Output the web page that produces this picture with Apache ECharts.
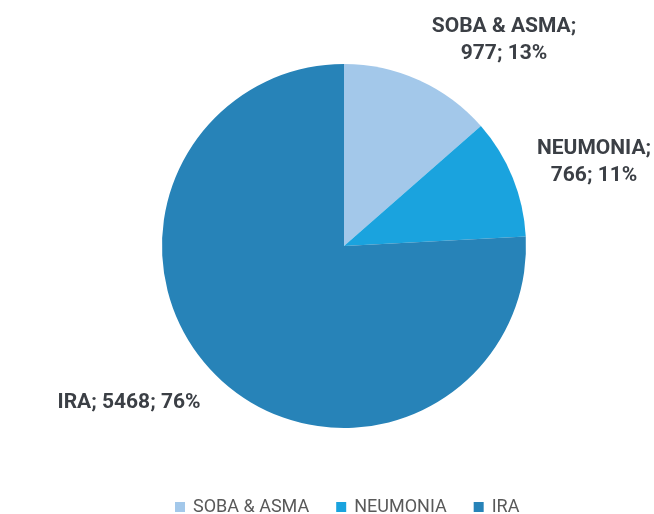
<!DOCTYPE html>
<html><head><meta charset="utf-8">
<script src="https://cdn.jsdelivr.net/npm/echarts@6/dist/echarts.min.js"></script>
<style>html,body{margin:0;padding:0;background:#fff}#c{width:654px;height:514px}</style>
</head><body><div id="c"></div>
<script>
const categories = ['SOBA & ASMA', 'NEUMONIA', 'IRA'];
const values = [977, 766, 5468];
const percents = ['13%', '11%', '76%'];
const colors = ['#a3c8ea', '#1aa3de', '#2783b8'];
const labelTexts = [
  'SOBA & ASMA;\n977; 13%',
  'NEUMONIA;\n766; 11%',
  'IRA; 5468; 76%'
];
const labelPos = [[504, 40], [594, 162], [129, 403]];

const chart = echarts.init(document.getElementById('c'), null, {renderer: 'canvas'});
chart.setOption({
  animation: false,
  backgroundColor: '#fff',
  legend: {
    top: 493,
    left: 170,
    itemWidth: 10, itemHeight: 10, itemGap: 27,
    icon: 'rect',
    textStyle: {color: '#595959', fontSize: 18, fontFamily: 'Roboto', padding: [0, 0, 0, 3]},
    data: categories
  },
  series: [{
    type: 'pie',
    center: [344, 246],
    radius: [0, 182],
    startAngle: 90,
    clockwise: true,
    data: categories.map((c, i) => ({name: c, value: values[i], itemStyle: {color: colors[i]}})),
    label: {
      show: true,
      position: 'outside',
      overflow: 'none',
      bleedMargin: 0,
      formatter: p => labelTexts[p.dataIndex],
      color: '#3b3f45',
      fontWeight: 'bold',
      fontSize: 21,
      fontFamily: 'Roboto',
      lineHeight: 27,
      align: 'center'
    },
    labelLine: {show: false},
    labelLayout: function (params) {
      const p = labelPos[params.dataIndex];
      return {x: p[0], y: p[1], align: 'center', verticalAlign: 'middle'};
    }
  }]
});
</script></body></html>
